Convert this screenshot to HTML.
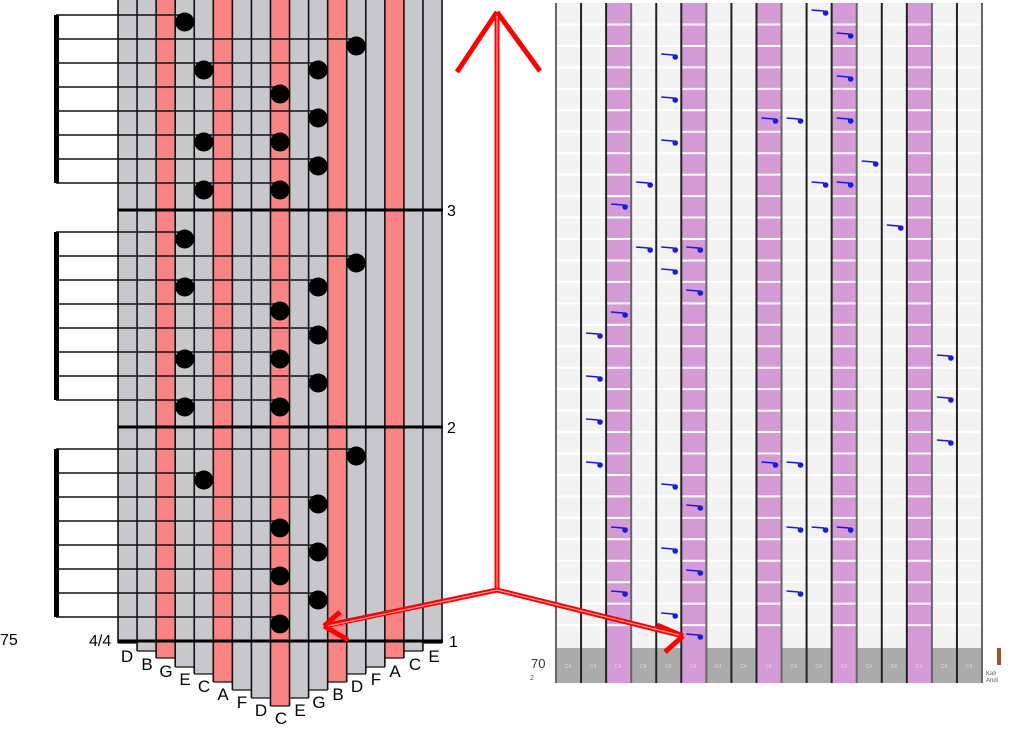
<!DOCTYPE html>
<html><head><meta charset="utf-8"><style>
html,body{margin:0;padding:0;background:#fff;width:1024px;height:745px;overflow:hidden}
svg{display:block}
text{font-family:"Liberation Sans",sans-serif}
</style></head><body>
<svg id="s" width="1024" height="745" viewBox="0 0 1024 745" xmlns="http://www.w3.org/2000/svg">
<g id="left"></g>
<g id="right"></g>
<g font-size="16" fill="#000">
<text x="447" y="216">3</text>
<text x="447" y="433">2</text>
<text x="449" y="647">1</text>
<text x="89" y="646">4/4</text>
<text x="0" y="645">75</text>
</g>
<g font-size="17" fill="#000" text-anchor="middle" id="letters">
<text x="127" y="662">D</text><text x="147" y="670">B</text><text x="166" y="677">G</text>
<text x="185" y="685">E</text><text x="204" y="692">C</text><text x="223" y="700">A</text>
<text x="242" y="708">F</text><text x="261" y="716">D</text><text x="281" y="724">C</text>
<text x="300" y="716">E</text><text x="319" y="708">G</text><text x="338" y="700">B</text>
<text x="357" y="692">D</text><text x="376" y="685">F</text><text x="395" y="677">A</text>
<text x="415" y="670">C</text><text x="434" y="662">E</text>
</g>
<text x="531" y="668" font-size="13" fill="#333">70</text>
<text x="530" y="680" font-size="7" fill="#555">2</text>
<rect x="997" y="648" width="4" height="17" fill="#a0522d"/>
<text x="986" y="675" font-size="6" fill="#555">Kali</text>
<text x="986" y="682" font-size="6" fill="#555">Andi</text>
<g stroke="#f00" stroke-width="5" fill="none" stroke-linecap="butt">
<line x1="497" y1="590" x2="497" y2="12"/>
<line x1="497" y1="12" x2="457" y2="72"/>
<line x1="497" y1="12" x2="540" y2="71"/>
<line x1="497" y1="590" x2="324" y2="626"/>
<line x1="324" y1="626" x2="340" y2="612"/>
<line x1="324" y1="626" x2="348" y2="640"/>
<line x1="497" y1="590" x2="683" y2="636"/>
<line x1="683" y1="636" x2="657" y2="625"/>
<line x1="683" y1="636" x2="665" y2="652"/>
</g>
<g stroke="#fff" stroke-width="1.2" fill="none" opacity="0.6">
<line x1="497" y1="588" x2="497" y2="16"/>
<line x1="497" y1="590" x2="328" y2="626"/>
<line x1="497" y1="590" x2="679" y2="635"/>
</g>
</svg>
<script>
var NS="http://www.w3.org/2000/svg";
function el(p,t,a){var e=document.createElementNS(NS,t);for(var k in a)e.setAttribute(k,a[k]);p.appendChild(e);return e;}
var L=document.getElementById("left");
var x0=118,cw=19.06;
var ext=[2,10,17,26,33,41,49,57,65,57,49,41,33,26,17,10,2];
var red=[2,5,8,11,14];
for(var i=0;i<17;i++){
  var x=x0+i*cw;
  el(L,"rect",{x:x,y:0,width:cw,height:641+ext[i],fill:red.indexOf(i)>=0?"#f88484":"#c8c8cc"});
}
for(var i=0;i<=17;i++){var x=x0+i*cw;
  var h=641+Math.max(ext[Math.max(0,i-1)],ext[Math.min(16,i)]);
  el(L,"line",{x1:x,y1:0,x2:x,y2:h,stroke:"#111","stroke-width":1.6});}
for(var i=0;i<17;i++){var x=x0+i*cw;el(L,"line",{x1:x,y1:641+ext[i],x2:x+cw,y2:641+ext[i],stroke:"#111","stroke-width":1.2});}
function cx(c){return x0+(c+0.5)*cw;}
var meas=[{top:-7,rows:[[3],[12],[4,10],[8],[10],[4,8],[10],[4,8]]},
 {top:210,rows:[[3],[12],[3,10],[8],[10],[3,8],[10],[3,8]]},
 {top:427,rows:[[12],[4],[10],[8],[10],[8],[10],[8]]}];
meas.forEach(function(m){
  el(L,"rect",{x:54,y:m.top+22,width:5,height:168,fill:"#000"});
  m.rows.forEach(function(r,k){
    var y=m.top+22+24*k;var mx=Math.max.apply(null,r);
    el(L,"line",{x1:56,y1:y,x2:cx(mx),y2:y,stroke:"#111","stroke-width":1.6});
    r.forEach(function(c){el(L,"circle",{cx:cx(c),cy:y+7,r:9.5,fill:"#000"});});
  });
});
[210,427,641].forEach(function(y){el(L,"line",{x1:118,y1:y,x2:443,y2:y,stroke:"#000","stroke-width":3});});
var R=document.getElementById("right");
var rx=556,rw=25.06,pur=[2,5,8,11,14];
for(var i=0;i<17;i++){var x=rx+i*rw;var p=pur.indexOf(i)>=0;
  el(R,"rect",{x:x,y:3,width:rw,height:680,fill:p?"#d49bd6":"#f3f3f3"});
  if(!p)el(R,"rect",{x:x,y:648,width:rw,height:35,fill:"#ababab"});
  el(R,"text",{x:x+12,y:668,"font-size":"5","text-anchor":"middle",fill:"#ddd"}).textContent="C4";
}
for(var y=24.5;y<645;y+=21.45){el(R,"line",{x1:rx,y1:y,x2:rx+17*rw,y2:y,stroke:"#fff","stroke-width":2});}
for(var i=0;i<=17;i++){var x=rx+i*rw;el(R,"line",{x1:x,y1:3,x2:x,y2:683,stroke:(i%3==0||i==17)?"#666":"#222","stroke-width":2});}
var notes=[[10,13],[11,36],[4,57],[11,79],[4,100],[8,121],[9,121],[11,121],[4,143],[12,164],[3,185],[10,185],[11,185],[2,207],[13,228],[3,250],[4,250],[5,250],[4,272],[5,293],[2,315],[1,336],[15,358],[1,379],[15,400],[1,422],[15,443],[1,465],[8,465],[9,465],[4,487],[5,508],[2,530],[9,530],[10,530],[11,530],[4,551],[5,573],[2,594],[9,594],[4,616],[5,637]];
notes.forEach(function(n){var x=rx+n[0]*rw;var y=n[1];
  el(R,"path",{d:"M"+(x+5)+" "+(y-3)+" L"+(x+17)+" "+(y-2)+" L"+(x+19)+" "+y,stroke:"#1a1adc","stroke-width":1.5,fill:"none"});
  el(R,"circle",{cx:x+19,cy:y,r:2.8,fill:"#1a1adc"});});
</script>
</body></html>
